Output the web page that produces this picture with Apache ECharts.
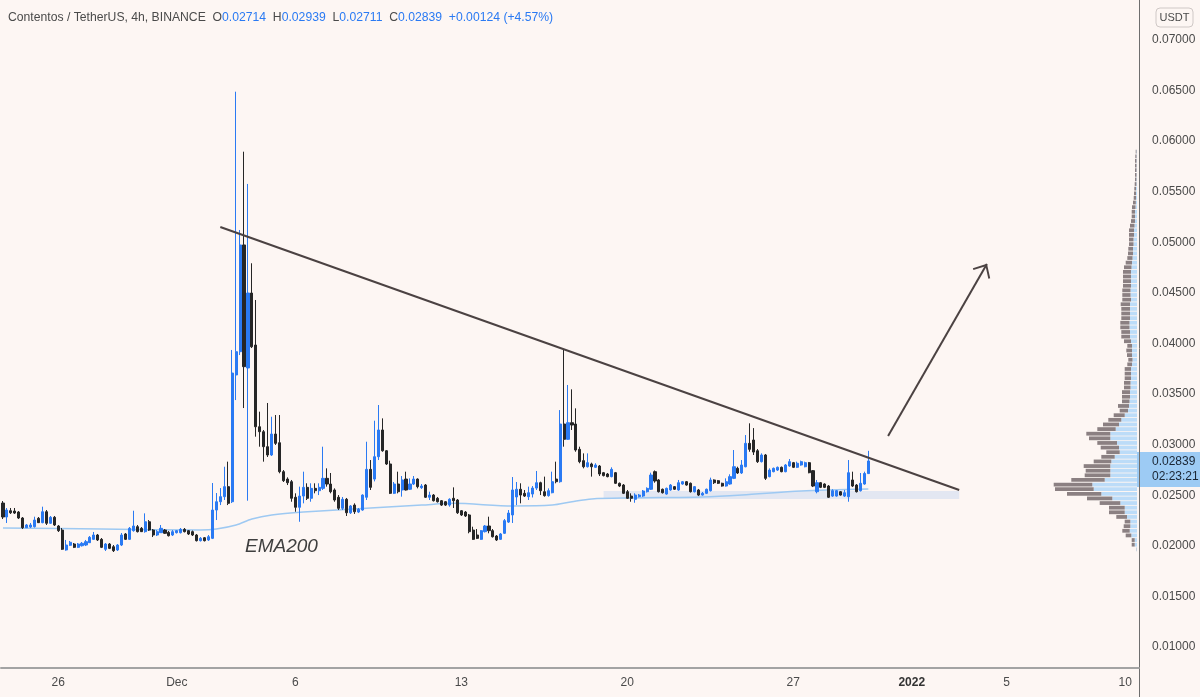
<!DOCTYPE html>
<html>
<head>
<meta charset="utf-8">
<title>Contentos / TetherUS, 4h</title>
<script src="https://cdn.jsdelivr.net/npm/echarts/dist/echarts.min.js"></script>
<style>
  html, body { margin: 0; padding: 0; background: #fdf6f3; }
  #chart { width: 1200px; height: 697px; }
</style>
</head>
<body>
<div id="chart"></div>
<script>
// 4h candles, each row = [open, close, low, high]
const candles4h = [
  [0.02423,0.02285,0.02265,0.02443],[0.02285,0.02354,0.02226,0.02374],[0.02347,0.02327,0.02315,0.02374],[0.02344,0.02324,0.02315,0.02374],
  [0.02334,0.02275,0.02265,0.02344],[0.02275,0.02179,0.02166,0.02285],[0.02179,0.02206,0.02176,0.02216],[0.02186,0.02206,0.02176,0.02226],
  [0.02189,0.02255,0.02181,0.02288],[0.02272,0.02229,0.02226,0.02285],[0.02229,0.02337,0.02223,0.02387],[0.02337,0.02223,0.02206,0.02354],
  [0.02223,0.02282,0.02216,0.02295],[0.02282,0.02206,0.02196,0.02295],[0.02196,0.02150,0.02137,0.02206],[0.02156,0.01966,0.01959,0.02176],
  [0.01959,0.02008,0.01952,0.02058],[0.02005,0.02035,0.01998,0.02048],[0.02018,0.01985,0.01978,0.02028],[0.01985,0.02018,0.01978,0.02028],
  [0.02001,0.02025,0.01993,0.02038],[0.02008,0.02041,0.01998,0.02058],[0.02031,0.02084,0.02028,0.02097],[0.02064,0.02107,0.02058,0.02137],
  [0.02107,0.02058,0.02048,0.02117],[0.02064,0.01985,0.01978,0.02077],[0.01966,0.02018,0.01949,0.02028],[0.02018,0.01975,0.01968,0.02028],
  [0.01991,0.01952,0.01939,0.02008],[0.01959,0.02008,0.01949,0.02018],[0.02008,0.02107,0.01998,0.02127],[0.02117,0.02064,0.02058,0.02127],
  [0.02064,0.02173,0.02058,0.02186],[0.02150,0.02196,0.02140,0.02347],[0.02189,0.02140,0.02132,0.02206],[0.02173,0.02140,0.02137,0.02186],
  [0.02140,0.02238,0.02130,0.02321],[0.02238,0.02156,0.02147,0.02255],[0.02156,0.02107,0.02087,0.02166],[0.02107,0.02140,0.02097,0.02156],
  [0.02130,0.02173,0.02127,0.02206],[0.02156,0.02124,0.02117,0.02166],[0.02133,0.02100,0.02092,0.02147],[0.02107,0.02140,0.02097,0.02156],
  [0.02130,0.02150,0.02122,0.02156],[0.02130,0.02163,0.02122,0.02176],[0.02163,0.02140,0.02132,0.02176],[0.02150,0.02117,0.02107,0.02156],
  [0.02140,0.02107,0.02097,0.02151],[0.02107,0.02051,0.02043,0.02117],[0.02051,0.02074,0.02043,0.02087],[0.02080,0.02051,0.02043,0.02087],
  [0.02058,0.02090,0.02048,0.02107],[0.02074,0.02354,0.02067,0.02621],[0.02354,0.02436,0.02255,0.02522],[0.02436,0.02486,0.02403,0.02571],
  [0.02486,0.02585,0.02453,0.02782],[0.02585,0.02420,0.02403,0.02832],[0.02436,0.03708,0.02423,0.03936],[0.03689,0.03919,0.03441,0.06489],
  [0.03919,0.04974,0.03886,0.05122],[0.04974,0.03771,0.03362,0.05896],[0.03758,0.04499,0.02446,0.05577],[0.04499,0.03968,0.03955,0.04793],
  [0.03985,0.03177,0.03079,0.04430],[0.03177,0.03128,0.02980,0.03326],[0.03128,0.02980,0.02832,0.03145],[0.02980,0.02898,0.02878,0.03412],
  [0.02898,0.03105,0.02888,0.03276],[0.03105,0.03013,0.02997,0.03293],[0.03019,0.02733,0.02717,0.03293],[0.02733,0.02644,0.02631,0.02749],
  [0.02660,0.02624,0.02601,0.02677],[0.02634,0.02470,0.02436,0.02651],[0.02480,0.02381,0.02337,0.02519],[0.02381,0.02492,0.02238,0.02585],
  [0.02492,0.02578,0.02420,0.02733],[0.02578,0.02470,0.02453,0.02618],[0.02470,0.02568,0.02436,0.02618],[0.02568,0.02545,0.02519,0.02618],
  [0.02545,0.02578,0.02502,0.02618],[0.02568,0.02667,0.02552,0.02980],[0.02667,0.02611,0.02585,0.02766],[0.02611,0.02535,0.02519,0.02720],
  [0.02552,0.02453,0.02436,0.02568],[0.02480,0.02371,0.02354,0.02502],[0.02371,0.02460,0.02354,0.02483],[0.02460,0.02327,0.02295,0.02473],
  [0.02327,0.02394,0.02315,0.02403],[0.02403,0.02337,0.02315,0.02420],[0.02334,0.02361,0.02324,0.02374],[0.02354,0.02502,0.02347,0.02509],
  [0.02480,0.02756,0.02453,0.03029],[0.02756,0.02578,0.02552,0.02848],[0.02660,0.02881,0.02637,0.03237],[0.02881,0.03145,0.02848,0.03392],
  [0.03145,0.02940,0.02930,0.03260],[0.02940,0.02809,0.02799,0.02947],[0.02809,0.02519,0.02512,0.02842],[0.02519,0.02611,0.02512,0.02631],
  [0.02611,0.02535,0.02519,0.02733],[0.02552,0.02651,0.02486,0.02690],[0.02660,0.02552,0.02547,0.02733],[0.02559,0.02611,0.02552,0.02667],
  [0.02611,0.02660,0.02601,0.02690],[0.02660,0.02585,0.02568,0.02667],[0.02575,0.02591,0.02562,0.02611],[0.02601,0.02480,0.02473,0.02611],
  [0.02480,0.02502,0.02453,0.02535],[0.02502,0.02446,0.02438,0.02512],[0.02470,0.02436,0.02428,0.02483],[0.02446,0.02403,0.02394,0.02453],
  [0.02436,0.02403,0.02394,0.02443],[0.02403,0.02460,0.02387,0.02470],[0.02470,0.02446,0.02374,0.02578],[0.02453,0.02327,0.02315,0.02463],
  [0.02347,0.02305,0.02295,0.02354],[0.02334,0.02295,0.02285,0.02344],[0.02305,0.02140,0.02124,0.02315],[0.02156,0.02064,0.02058,0.02189],
  [0.02107,0.02074,0.02067,0.02166],[0.02064,0.02150,0.02058,0.02156],[0.02140,0.02196,0.02132,0.02206],[0.02196,0.02150,0.02124,0.02288],
  [0.02150,0.02090,0.02082,0.02166],[0.02097,0.02058,0.02048,0.02107],[0.02064,0.02117,0.02058,0.02127],[0.02124,0.02249,0.02117,0.02265],
  [0.02235,0.02324,0.02226,0.02354],[0.02305,0.02552,0.02226,0.02680],[0.02483,0.02559,0.02403,0.02631],[0.02559,0.02502,0.02420,0.02618],
  [0.02519,0.02492,0.02483,0.02552],[0.02486,0.02525,0.02453,0.02585],[0.02512,0.02571,0.02478,0.02591],[0.02571,0.02624,0.02552,0.02740],
  [0.02624,0.02545,0.02502,0.02634],[0.02535,0.02496,0.02486,0.02684],[0.02496,0.02545,0.02486,0.02568],[0.02525,0.02634,0.02519,0.02733],
  [0.02660,0.02634,0.02618,0.02832],[0.02634,0.03204,0.02624,0.03342],[0.03204,0.03053,0.02980,0.03943],[0.03053,0.03217,0.03046,0.03590],
  [0.03217,0.03194,0.03145,0.03547],[0.03204,0.02947,0.02930,0.03359],[0.02954,0.02832,0.02816,0.02980],[0.02842,0.02782,0.02766,0.02914],
  [0.02782,0.02822,0.02774,0.02914],[0.02809,0.02782,0.02684,0.02822],[0.02776,0.02799,0.02769,0.02816],[0.02789,0.02710,0.02690,0.02799],
  [0.02723,0.02694,0.02686,0.02730],[0.02710,0.02684,0.02677,0.02720],[0.02684,0.02756,0.02677,0.02776],[0.02723,0.02618,0.02611,0.02730],
  [0.02618,0.02591,0.02581,0.02626],[0.02601,0.02519,0.02512,0.02611],[0.02535,0.02470,0.02463,0.02552],[0.02492,0.02470,0.02436,0.02519],
  [0.02460,0.02502,0.02426,0.02519],[0.02486,0.02502,0.02478,0.02512],[0.02492,0.02542,0.02483,0.02552],[0.02535,0.02568,0.02527,0.02578],
  [0.02559,0.02700,0.02552,0.02723],[0.02733,0.02641,0.02624,0.02745],[0.02651,0.02535,0.02527,0.02660],[0.02559,0.02525,0.02517,0.02566],
  [0.02512,0.02568,0.02505,0.02576],[0.02552,0.02601,0.02545,0.02611],[0.02585,0.02559,0.02552,0.02591],[0.02552,0.02624,0.02545,0.02651],
  [0.02611,0.02634,0.02604,0.02641],[0.02634,0.02601,0.02594,0.02641],[0.02618,0.02535,0.02527,0.02626],[0.02535,0.02585,0.02527,0.02591],
  [0.02552,0.02502,0.02492,0.02562],[0.02502,0.02519,0.02496,0.02532],[0.02519,0.02559,0.02512,0.02566],[0.02545,0.02651,0.02537,0.02674],
  [0.02651,0.02624,0.02611,0.02657],[0.02644,0.02618,0.02611,0.02651],[0.02618,0.02591,0.02585,0.02624],[0.02591,0.02634,0.02585,0.02667],
  [0.02611,0.02684,0.02604,0.02707],[0.02667,0.02782,0.02660,0.02947],[0.02766,0.02720,0.02710,0.02782],[0.02720,0.02799,0.02710,0.02848],
  [0.02782,0.03013,0.02776,0.03095],[0.03013,0.02954,0.02930,0.03211],[0.03046,0.02927,0.02898,0.03164],[0.02940,0.02832,0.02819,0.02957],
  [0.02832,0.02898,0.02824,0.02914],[0.02898,0.02667,0.02651,0.02908],[0.02684,0.02749,0.02677,0.02766],[0.02733,0.02766,0.02727,0.02774],
  [0.02749,0.02776,0.02740,0.02784],[0.02776,0.02733,0.02727,0.02784],[0.02733,0.02799,0.02727,0.02809],[0.02789,0.02832,0.02782,0.02858],
  [0.02822,0.02776,0.02769,0.02829],[0.02776,0.02816,0.02769,0.02832],[0.02799,0.02832,0.02792,0.02842],[0.02782,0.02822,0.02776,0.02832],
  [0.02822,0.02723,0.02717,0.02829],[0.02743,0.02591,0.02581,0.02749],[0.02535,0.02624,0.02519,0.02651],[0.02624,0.02578,0.02571,0.02631],
  [0.02611,0.02578,0.02571,0.02618],[0.02591,0.02480,0.02473,0.02601],[0.02492,0.02545,0.02483,0.02559],[0.02492,0.02545,0.02486,0.02552],
  [0.02535,0.02502,0.02496,0.02542],[0.02492,0.02525,0.02483,0.02552],[0.02486,0.02723,0.02436,0.02848],[0.02651,0.02591,0.02581,0.02733],
  [0.02601,0.02535,0.02527,0.02611],[0.02545,0.02618,0.02537,0.02720],[0.02611,0.02715,0.02604,0.02733],[0.02714,0.02839,0.02711,0.02939]
];

// EMA200 read at a few candles (candle index, value)
const emaIdx = [0, 25, 50, 54, 59, 63, 68, 76, 93, 106, 114, 129, 139, 144, 149, 159, 177, 187, 202, 219];
const emaVal = [0.02177, 0.02166, 0.02156, 0.02166, 0.02206, 0.02265, 0.02305, 0.02334, 0.02374, 0.02403,
                0.02420, 0.02394, 0.02403, 0.02436, 0.02463, 0.02473, 0.02483, 0.02502, 0.02542, 0.02562];

// drawings: [candle index, price]
const trendStart = [55, 0.05152];
const trendEnd = [242, 0.02552];
const arrowStart = [224, 0.03086];
const arrowEnd = [249, 0.04786];
const zoneFrom = [152, 0.02542];
const zoneTo = [242, 0.02463];

// x axis labels
const tickDates = ['2021-11-26', '2021-12-01', '2021-12-06', '2021-12-13', '2021-12-20', '2021-12-27', '2022-01-01', '2022-01-05', '2022-01-10'];
const tickLabels = ['26', 'Dec', '6', '13', '20', '27', '2022', '5', '10'];

// visible range volume profile, rows from top (0.0592) to bottom (0.0194)
const profileHigh = 0.05919;
const profileLow = 0.01943;
const profileUp = [0.5,0.5,0.5,0.5,0.5,0.5,0.6,0.6,1,1,
  1,1.2,1.5,2,2,2,2.5,3,3,3.5,
  3.5,4,4,4.5,5,5.5,6,6,6,6,
  6.5,6.5,6,7,7,7,7,7.5,7.5,7,
  7,6,5,5,5,4.5,5,6,6,6,
  6.5,6.5,7,7,7.5,8,9,12.3,15.7,18,
  21.3,26.7,26.7,20,18,17.3,22.3,25.7,26.7,26.7,
  26.7,32.3,44.7,43.3,35.7,24.7,16.7,12.3,12.3,10,
  6.7,6.7,7.3,5.7,2.3,2.3,0.5];
const profileDown = [0.8,1.2,1.5,1.5,1.5,1.5,1.4,1.7,1.7,2,
  2.3,2.8,3.5,3.3,3.3,4,4.5,5,5,4.5,
  4.5,4.7,5,5.2,6.3,7.5,8,8,8,8,
  8.2,8.2,8.7,9.3,8.7,8.7,8.7,9.2,9.2,8.7,
  8.7,7,4.7,5.7,5,4.2,4.7,6.3,6.3,6.3,
  6.5,6.5,8,8,7.5,11,8.3,11,13,16,
  18.4,24,21.3,19.7,18.3,13.4,13.4,17.6,26.6,24.6,
  25.6,33.4,38.6,38.7,34.3,25.3,20.6,15.7,15.7,10.7,
  5.6,6.6,7.4,5.6,3,3,0.2];

const countdown = '02:23:21';

const fontFam = '"Liberation Sans", Arial, sans-serif';
const upColor = '#2a7af3';
const downColor = '#262626';
const bg = '#fdf6f3';

// price scale layout
const yMin = 0.005, yMax = 0.075, yStep = 0.005;
const gridTop = -10.583;
const gridH = 708.166;
function yPix(p) {
  return gridTop + (yMax - p) / (yMax - yMin) * gridH;
}

// 4h slots from 23 Nov 16:00 UTC
const slotCount = 288;
const startMs = Date.UTC(2021, 10, 23, 16);
const categories = [];
for (let k = 0; k < slotCount; k++) {
  const d = new Date(startMs + k * 4 * 3600 * 1000);
  categories.push(d.toISOString().slice(0, 13).replace('T', ' ') + ':00');
}
const labelMap = {};
tickDates.forEach(function (d, j) { labelMap[d + ' 00:00'] = tickLabels[j]; });

const profileRows = profileUp.map(function (v, k) { return 'r' + k; });
const profTop = yPix(profileHigh);
const profH = yPix(profileLow) - profTop;

const last = candles4h[candles4h.length - 1];
const prevClose = candles4h[candles4h.length - 2][1];
const chg = last[1] - prevClose;
const chgPct = chg / prevClose * 100;
const f5 = function (v) { return v.toFixed(5); };
const titleText = '{n|Contentos / TetherUS, 4h, BINANCE}  ' +
  '{k|O}{v|' + f5(last[0]) + '}  {k|H}{v|' + f5(last[3]) + '}  {k|L}{v|' + f5(last[2]) +
  '}  {k|C}{v|' + f5(last[1]) + '}  {v|' + (chg >= 0 ? '+' : '') + f5(chg) + ' (' + (chg >= 0 ? '+' : '') + chgPct.toFixed(2) + '%)}';

const yLast = yPix(last[1]);

const chevron = 'path://M10,0 L20,11 L18.6,12.3 L10,2.8 L1.4,12.3 L0,11 Z M9.95,-12 L10.05,-12 L10,-11.95 Z';

const chart = echarts.init(document.getElementById('chart'));

chart.setOption({
  animation: false,
  backgroundColor: bg,
  grid: [
    { left: 1, right: 61, top: gridTop, bottom: 697 - (gridTop + gridH), containLabel: false, outerBoundsMode: 'none' },
    { left: 1037, width: 100, top: profTop, height: profH, containLabel: false, outerBoundsMode: 'none' }
  ],
  xAxis: [
    {
      type: 'category',
      gridIndex: 0,
      data: categories,
      boundaryGap: true,
      offset: 668 - (gridTop + gridH),
      axisLine: { lineStyle: { color: '#a3a3a3', width: 2 } },
      axisTick: { show: false },
      splitLine: { show: false },
      axisLabel: {
        interval: function (idx, val) { return labelMap[val] !== undefined; },
        formatter: function (val) {
          const t = labelMap[val];
          return t === '2022' ? '{b|2022}' : t;
        },
        color: '#4a4a4a',
        fontSize: 12,
        fontFamily: fontFam,
        margin: 9,
        rich: { b: { fontWeight: 'bold', fontSize: 12, color: '#333333', fontFamily: fontFam } }
      }
    },
    { type: 'value', gridIndex: 1, min: 0, max: 100, inverse: true, show: false }
  ],
  yAxis: [
    {
      type: 'value',
      gridIndex: 0,
      position: 'right',
      min: yMin,
      max: yMax,
      interval: yStep,
      axisLine: { show: true, lineStyle: { color: '#6e6e6e', width: 1 } },
      axisTick: { show: false },
      splitLine: { show: false },
      axisLabel: {
        showMinLabel: false,
        showMaxLabel: false,
        formatter: function (v) { return v.toFixed(5); },
        color: '#4a4a4a',
        fontSize: 12,
        fontFamily: fontFam,
        margin: 13
      }
    },
    { type: 'category', gridIndex: 1, data: profileRows, inverse: true, show: false }
  ],
  series: [
    {
      name: 'EMA200',
      type: 'line',
      xAxisIndex: 0,
      yAxisIndex: 0,
      data: emaIdx.map(function (k, j) { return [k, emaVal[j]]; }),
      symbol: 'none',
      smooth: 0.3,
      z: 1,
      lineStyle: { color: '#9ec9f2', width: 1.5 },
      markArea: {
        silent: true,
        itemStyle: { color: 'rgba(187,210,240,0.4)' },
        data: [[{ coord: zoneFrom }, { coord: zoneTo }]]
      }
    },
    {
      name: 'CTSI',
      type: 'candlestick',
      xAxisIndex: 0,
      yAxisIndex: 0,
      data: candles4h,
      barWidth: 2.6,
      z: 3,
      itemStyle: {
        color: upColor,
        color0: downColor,
        borderColor: upColor,
        borderColor0: downColor,
        borderWidth: 1
      }
    },
    {
      name: 'trend',
      type: 'line',
      xAxisIndex: 0,
      yAxisIndex: 0,
      data: [trendStart, trendEnd],
      symbol: 'none',
      z: 4,
      lineStyle: { color: '#4b4242', width: 2 },
      markLine: {
        silent: true,
        symbol: ['none', chevron],
        symbolSize: [20, 24],
        label: { show: false },
        lineStyle: { color: '#4b4242', width: 2, type: 'solid' },
        data: [[{ coord: arrowStart }, { coord: arrowEnd }]]
      }
    },
    {
      name: 'up volume',
      type: 'bar',
      xAxisIndex: 1,
      yAxisIndex: 1,
      stack: 'vp',
      data: profileUp,
      barCategoryGap: '18%',
      itemStyle: { color: '#bcdcf8' }
    },
    {
      name: 'down volume',
      type: 'bar',
      xAxisIndex: 1,
      yAxisIndex: 1,
      stack: 'vp',
      data: profileDown,
      barCategoryGap: '18%',
      itemStyle: { color: '#8b8082' }
    }
  ],
  graphic: [
    {
      type: 'text',
      left: 8,
      top: 12,
      style: {
        text: titleText,
        fontSize: 12.2,
        fontFamily: fontFam,
        fill: '#4a4a4a',
        rich: {
          n: { fontSize: 12.2, fontFamily: fontFam, fill: '#4a4a4a' },
          k: { fontSize: 12.2, fontFamily: fontFam, fill: '#4a4a4a' },
          v: { fontSize: 12.2, fontFamily: fontFam, fill: '#2a7af3' }
        }
      }
    },
    {
      type: 'text',
      x: 245,
      y: 547,
      style: {
        text: 'EMA200',
        font: 'italic 19px ' + fontFam,
        fill: '#3f3f3f',
        verticalAlign: 'middle'
      }
    },
    {
      type: 'rect',
      shape: { x: 1156, y: 8, width: 37, height: 19, r: 4 },
      style: { fill: bg, stroke: '#cfc8c6', lineWidth: 1 }
    },
    {
      type: 'text',
      x: 1174.5,
      y: 17.5,
      style: { text: 'USDT', fontSize: 11, fontFamily: fontFam, fill: '#4a4a4a', align: 'center', verticalAlign: 'middle' }
    },
    {
      type: 'rect',
      shape: { x: 1137, y: yLast - 9, width: 63, height: 35 },
      style: { fill: '#9dcbf4' }
    },
    {
      type: 'text',
      x: 1152,
      y: yLast + 1,
      style: { text: f5(last[1]), fontSize: 12, fontFamily: fontFam, fill: '#1a2533', verticalAlign: 'middle' }
    },
    {
      type: 'text',
      x: 1152,
      y: yLast + 16,
      style: { text: countdown, fontSize: 12, fontFamily: fontFam, fill: '#1a2533', verticalAlign: 'middle' }
    }
  ]
});
</script>
</body>
</html>
